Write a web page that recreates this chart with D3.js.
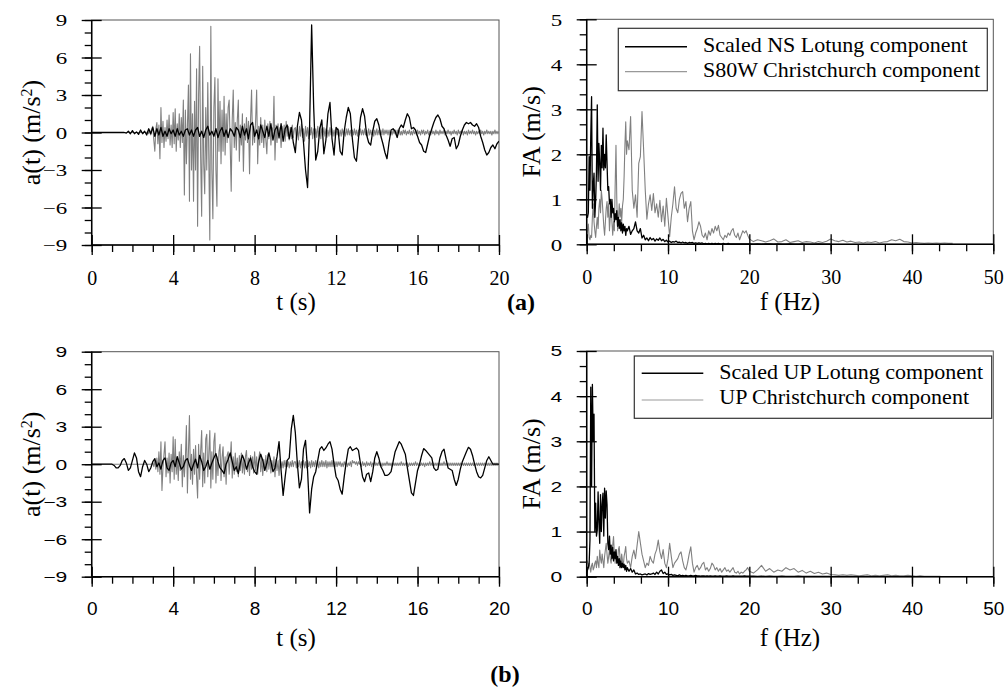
<!DOCTYPE html>
<html><head><meta charset="utf-8">
<script src="https://cdn.jsdelivr.net/npm/d3@7"></script>
<style>body{margin:0;background:#fff}</style>
</head><body>
<svg id="c" width="1008" height="690"></svg>
<script>
// ---------- DATA ----------
const timeTicks = [0,4,8,12,16,20];
const accTicks = [-9,-6,-3,0,3,6,9];
const freqTicks = [0,10,20,30,40,50];
const faTicks = [0,1,2,3,4,5];
const DT_GRAY = 0.05, DT_BLACK = 0.1;

// (a) S80W Christchurch acceleration, t = 0..20 s, step 0.05 s
const s80wChristchurch = [
0,0,0,0,0,0,0,0,0,0,0,0,0,0,0,0,0,0,0,0,
0,0,0,0,0,0,0,0,0,0,0,0,0,0,0,0,0,0,0,0,
0,0,0,0,0,0,0,0,0,0,0,0,0,0,0,0.1,-0.1,0.2,-0.2,0.3,
0.5,-0.6,-1.5,0.3,0.8,-0.9,0.6,-2.1,2.0,-0.8,0.9,-1.2,0.4,-0.7,1.0,-0.5,1.4,-1.0,0.6,-1.2,
1.6,-0.9,1.9,-1.5,0.7,-0.6,1.5,-1.2,1.2,-0.8,2.6,-5.0,1.8,-2.5,0.5,3.8,-5.5,6.3,-3.0,1.5,
-5.5,2.5,-3.0,5.1,-7.5,3.0,6.9,-2.0,-6.7,5.3,-2.5,-4.9,2.0,-3.0,4.0,-2.0,-8.6,8.5,-3.0,-6.9,
2.0,4.4,-3.0,-5.9,4.3,-1.5,2.5,-2.5,1.8,-1.5,2.9,-1.8,1.5,-0.8,2.0,2.6,-1.0,-4.7,1.0,3.4,
-1.2,0.8,-1.4,1.0,2.6,-2.3,0.6,-1.0,1.5,-3.1,0.7,-0.6,1.2,-0.8,0.9,-3.3,1.0,3.4,-1.0,0.5,
-0.8,1.0,3.4,-2.5,0.5,-1.0,1.2,-0.8,0.6,-1.2,1.0,-0.6,-1.7,0.7,-0.5,0.9,-1.0,0.4,-0.3,2.9,
-2.2,0.6,-0.8,0.7,-0.5,0.4,-1.2,0.5,-0.4,0.6,-0.7,0.9,-0.3,0.5,-0.6,0.4,-0.5,0.6,-0.4,0.3,
0.4,-0.5,0.3,-0.6,0.5,-0.3,0.7,-0.4,0.3,-0.7,0.5,-0.3,0.4,-0.5,0.6,-0.2,0.4,-0.5,0.3,-0.4,
0.3,-0.4,0.5,-0.3,0.4,-0.5,0.3,-0.2,0.4,-0.3,0.3,-0.4,0.2,-0.3,0.4,-0.2,0.3,-0.3,0.2,-0.3,
0.3,-0.2,0.3,-0.3,0.2,-0.3,0.3,-0.2,0.2,-0.3,0.3,-0.2,0.3,-0.2,0.2,-0.3,0.2,-0.2,0.3,-0.2,
0.2,-0.3,0.2,-0.2,0.3,-0.2,0.2,-0.2,0.3,-0.2,0.2,-0.3,0.3,-0.2,0.2,-0.2,0.2,-0.3,0.2,-0.2,
0.3,-0.2,0.2,-0.2,0.2,-0.2,0.3,-0.2,0.2,-0.1,0.2,-0.2,0.2,-0.2,0.1,-0.2,0.2,-0.1,0.2,-0.2,
0.2,-0.1,0.2,-0.2,0.1,-0.2,0.2,-0.1,0.2,-0.2,0.1,-0.1,0.2,-0.2,0.1,-0.2,0.2,-0.1,0.1,-0.2,
0.2,-0.1,0.1,-0.2,0.2,-0.1,0.2,-0.2,0.1,-0.1,0.2,-0.2,0.1,-0.2,0.2,-0.1,0.1,-0.2,0.2,-0.1,
0.1,-0.2,0.2,-0.1,0.1,-0.1,0.2,-0.2,0.1,-0.1,0.2,-0.1,0.1,-0.2,0.1,-0.1,0.2,-0.1,0.1,-0.2,
0.2,-0.1,0.1,-0.1,0.2,-0.2,0.1,-0.1,0.1,-0.2,0.2,-0.1,0.1,-0.1,0.2,-0.1,0.1,-0.2,0.1,-0.1,
0.1,-0.1,0.2,-0.1,0.1,-0.2,0.1,-0.1,0.2,-0.1,0.1,-0.1,0.1,-0.2,0.1,-0.1,0.2,-0.1,0.1,-0.1,
0.1];

// (a) Scaled NS Lotung acceleration, t = 0..20 s, step 0.1 s
const nsLotung = [
0,0,0,0,0,0,0,0,0,0,
0,0,0,0,0,0,0,-0.05,0.1,-0.1,
0.15,-0.1,0.05,-0.15,0.2,-0.1,0.1,-0.2,0.3,-0.1,
0.4,-0.3,0.3,-0.2,0.4,-0.3,0.1,-0.3,0.3,-0.1,
0.2,-0.3,0.3,-0.2,0.1,-0.3,0.2,0.3,-0.2,0.2,
-0.3,0.2,0.4,-0.3,0.1,-0.4,0.2,0.5,-0.2,0.1,
-0.3,0.3,-0.4,0.1,0.4,-0.3,0.2,-0.4,0.3,0.1,
-0.3,0.4,0.2,-0.4,0.5,-0.2,0.3,-0.5,0.6,0.8,
-0.3,0.2,-0.5,0.6,0.1,-0.4,0.5,-0.3,0.7,-0.6,
0.2,0.5,-0.4,0.7,-0.7,0.3,0.6,-0.5,0.4,-0.8,
-1.6,0.5,1.6,1.0,-0.8,-3.0,-4.4,0.5,8.6,2.0,
-2.2,-1.5,0.3,1.0,-1.7,-0.6,1.5,2.4,-0.5,-1.8,
0.4,0.2,-1.5,-1.8,0.1,1.2,2.0,1.5,-0.5,-2.0,
-2.3,-0.5,1.2,1.9,1.3,-0.2,-0.8,-1.0,0.1,0.9,
1.1,0.6,-0.3,-0.9,-1.6,-2.1,-0.8,0.2,0.3,0.1,
-0.4,0.3,0.6,0.4,1.0,1.5,1.2,0.3,0.4,0.2,
-0.3,-0.8,-1.0,-1.5,-1.6,-0.9,-0.2,0.3,0.8,1.2,
1.4,1.1,0.5,0.3,-0.2,-0.6,-1.1,-0.5,-0.4,-1.3,
-1.0,-0.3,0.2,0.6,0.8,0.7,0.8,0.6,0.5,0.7,
0.4,-0.3,-0.8,-1.4,-1.8,-1.6,-1.2,-1.0,-1.3,-0.9,
-0.7];

// (b) UP Christchurch acceleration, t = 0..20 s, step 0.05 s
const upChristchurch = [
0,0,0,0,0,0,0,0,0,0,0,0,0,0,0,0,0,0,0,0,
0,0,0,0,0,0,0,0,0,0,0,0,0,0,0,0,0,0,0,0,
0,0,0,0,0,0,0,0,0,0,0,0,0,0,0,0,0,0,0,0,
0.1,-0.2,0.3,-0.4,0.5,-0.6,1.0,-0.8,1.8,-2.1,-0.3,0.8,1.8,-1.0,0.5,-0.7,0.9,-1.5,0.8,-0.6,
2.2,-1.2,2.0,-0.8,0.6,-1.3,1.0,-0.5,1.6,-1.8,0.7,-1.0,0.5,3.1,-2.3,1.0,3.9,-1.2,0.8,-1.6,
1.2,-0.8,1.5,-1.0,-2.7,1.6,-1.2,1.0,2.7,-1.8,0.9,-1.5,2.0,2.4,-1.0,0.8,2.7,-1.9,1.0,-1.2,
1.8,2.5,-1.5,0.6,-0.9,1.0,1.6,-1.3,0.5,1.4,-1.0,0.6,-1.6,0.7,1.0,-0.8,0.4,1.8,-1.1,0.6,
-0.8,0.9,-0.6,0.5,-1.0,0.7,-0.5,0.9,-0.7,0.4,-0.8,0.6,1.1,-0.6,0.5,-0.9,0.7,-0.4,0.6,-0.7,
1.0,-0.5,0.6,-0.8,0.4,1.0,-0.6,0.5,-0.9,0.4,-0.5,0.7,-0.6,0.8,-0.4,0.5,-0.7,0.3,-0.5,0.6,
-1.0,0.4,-0.5,0.3,-0.9,0.4,-0.3,0.2,-0.3,0.3,-0.2,0.3,-0.2,0.2,-0.3,0.2,-0.2,0.3,-0.2,0.2,
0.2,-0.3,0.3,-0.2,0.3,-0.3,0.2,-0.2,0.3,-0.3,0.2,-0.3,0.3,-0.2,0.2,-0.3,0.3,-0.2,0.2,-0.2,
0.3,-0.2,0.2,-0.3,0.2,-0.2,0.3,-0.2,0.2,-0.2,0.3,-0.3,0.2,-0.2,0.2,-0.2,0.3,-0.2,0.2,-0.2,
0.2,-0.2,0.2,-0.1,0.2,-0.2,0.1,-0.2,0.2,-0.1,0.2,-0.2,0.1,-0.1,0.2,-0.2,0.3,0.1,0.2,0.0,
0.2,-0.1,0.2,0.0,0.1,-0.2,0.2,-0.1,0.1,-0.2,0.2,-0.1,0.1,-0.1,0.2,-0.2,0.1,-0.1,0.2,-0.1,
0.1,-0.1,0.2,-0.1,0.1,-0.2,0.1,-0.1,0.1,-0.1,0.2,-0.1,0.1,-0.1,0.1,-0.2,0.1,-0.1,0.1,-0.1,
0.1,-0.1,0.1,-0.1,0.2,-0.1,0.1,-0.1,0.1,-0.1,0.1,-0.2,0.1,-0.1,0.1,-0.1,0.1,-0.1,0.2,-0.1,
0.1,-0.1,0.1,-0.1,0.1,-0.1,0.1,-0.2,0.1,-0.1,0.1,-0.1,0.2,-0.1,0.1,-0.1,0.1,-0.1,0.1,-0.1,
0.1,-0.1,0.1,-0.1,0.1,-0.1,0.2,-0.1,0.1,-0.1,0.1,-0.1,0.1,-0.1,0.1,-0.1,0.1,-0.1,0.1,-0.1,
0.1,-0.1,0.1,-0.1,0.1,-0.1,0.1,-0.1,0.1,-0.1,0.1,-0.1,0.1,-0.1,0.1,-0.1,0.1,-0.1,0.1,-0.1,
0.1,-0.1,0.1,-0.1,0.1,-0.1,0.1,-0.1,0.1,-0.1,0.1,-0.1,0.1,-0.1,0.1,-0.1,0.1,-0.1,0.1,-0.1,
0];

// (b) Scaled UP Lotung acceleration, t = 0..20 s, step 0.1 s
const upLotung = [
0,0,0,0,0,0,0,0,0,0,
0,-0.1,-0.3,-0.3,-0.1,0.3,0.45,0.1,-0.5,-0.3,
0.3,0.9,0.5,-0.6,-1.0,-0.2,0.3,0.0,-0.6,-0.3,
0.2,0.45,-0.2,0.1,-0.4,0.3,0.5,-0.3,-0.5,0.1,
0.3,-0.2,0.6,0.1,-0.4,-0.2,0.3,0.45,-0.1,-0.5,
0.0,0.4,-0.3,0.7,0.2,-0.5,-0.2,0.3,-0.4,0.1,
0.5,0.85,0.2,-0.3,-0.5,-0.75,0.0,0.4,0.9,0.2,
-0.5,-0.2,-0.75,0.1,0.72,0.3,-0.4,0.1,0.5,-0.2,
-0.6,-0.8,0.2,0.8,0.3,-0.5,0.1,0.9,0.2,-0.6,
-0.3,0.6,1.8,-0.5,-2.5,-1.0,0.3,0.5,2.8,3.9,
2.5,0.0,-1.9,-1.2,1.2,1.9,-0.5,-3.9,-2.0,-1.0,
-0.6,0.3,1.2,1.4,1.1,1.3,1.6,1.8,1.2,0.0,
-1.0,-1.3,-2.0,-2.4,-1.0,0.2,1.2,1.4,1.1,1.2,
1.3,1.1,0.0,-1.0,-1.4,-0.8,-0.7,-1.4,-0.6,0.5,
1.0,0.5,-0.2,-0.5,-0.9,-0.9,-0.8,-0.6,0.2,1.0,
1.4,1.8,1.6,1.2,0.8,-0.3,-1.3,-2.3,-2.5,-1.5,
-0.5,0.0,0.7,1.25,1.1,0.9,0.7,0.5,-0.3,-0.5,
-0.4,0.5,1.0,1.2,0.4,-0.3,-0.4,-0.5,-1.2,-1.7,
-1.2,-0.4,0.2,0.6,1.0,1.35,1.2,0.7,0.0,-0.6,
-1.0,-1.1,-0.9,-0.3,0.3,0.6,0.3,0.0,0.0,0.0,
0.0];

// Fourier amplitude spectra: low band 0..4.9 Hz (step 0.1), mid 5..19.8 Hz (step 0.2), high from 20 Hz (step 0.5)
const faNsLotungLow = [0.65,0.6,0.7,1.95,1.2,2.4,3.28,0.8,1.3,1.58, 0.6,0.98,1.6,3.1,1.4,2.24,1.8,1.2,2.2,1.7,
 2.58,1.65,2.0,1.7,2.43,1.8,1.2,1.28,0.9,1.0, 0.6,1.0,0.7,0.8,0.5,0.68,0.55,0.75,0.4,0.6,
 0.35,0.55,0.3,0.48,0.25,0.45,0.3,0.4,0.2,0.35];
const faNsLotungMid = [0.3,0.4,0.22,0.3,0.35,0.5,0.3,0.25,0.35,0.14, 0.2,0.1,0.14,0.08,0.15,0.1,0.13,0.07,0.12,0.09,
 0.14,0.08,0.11,0.06,0.09,0.05,0.07,0.04,0.06,0.05, 0.07,0.04,0.05,0.03,0.05,0.03,0.04,0.02,0.04,0.03,
 0.04,0.02,0.03,0.02,0.03,0.02,0.03,0.01,0.02,0.01, 0.02,0.01,0.02,0.01,0.02,0.01,0.02,0.01,0.01,0.02,
 0.01,0.01,0.02,0.01,0.01,0.01,0.01,0.01,0.01,0.01, 0.01,0.01,0.01,0.01,0.01];
const faNsLotungHigh = [0.01,0.005,0.01,0.005,0.01,0.01,0.005,0.01,0.005,0.005,0.01,0.005,0.005,0.01,0.005,0.005,0.005,0.01,0.005,0.005,0.005];

const faS80wLow = [0.1,0.3,0.45,0.15,0.1,0.2,0.15,0.6,0.9,0.5, 0.3,0.15,0.4,0.6,0.35,0.8,1.0,0.7,1.2,1.0,
 0.7,0.4,0.2,0.5,0.8,0.95,0.6,0.9,0.3,0.6, 0.95,0.5,0.2,0.5,0.3,1.3,2.2,1.0,0.3,0.55,
 0.9,0.6,0.8,0.5,0.85,1.0,1.5,2.2,2.72,2.0];
const faS80wMid = [2.3,2.1,2.84,1.2,0.8,1.1,0.6,1.8,1.95,2.95, 2.1,1.2,0.56,0.9,1.1,0.75,1.13,0.7,0.9,0.6,
 0.98,0.5,0.85,0.4,1.02,0.6,0.17,0.6,0.9,1.28, 0.8,0.7,1.0,1.13,1.17,0.8,0.95,0.5,0.8,0.95,
 0.3,0.1,0.25,0.35,0.5,0.4,0.2,0.15,0.25,0.1, 0.3,0.2,0.35,0.25,0.4,0.3,0.42,0.2,0.15,0.1,
 0.2,0.15,0.25,0.2,0.3,0.35,0.2,0.15,0.25,0.1, 0.2,0.3,0.25,0.3,0.2];
const faS80wHigh = [0.12,0.06,0.1,0.08,0.05,0.08,0.12,0.05,0.06,0.1, 0.04,0.06,0.08,0.04,0.06,0.05,0.03,0.06,0.04,0.07,
 0.12,0.08,0.06,0.09,0.05,0.07,0.04,0.05,0.03,0.05, 0.04,0.06,0.03,0.05,0.06,0.1,0.08,0.11,0.06,0.05,
 0.03,0.04,0.03,0.02,0.03,0.02,0.03,0.02,0.03,0.02,0.02];

const faUpLotungLow = [0.1,0.15,0.2,0.3,0.8,4.2,2.0,4.26,3.0,3.6, 1.0,1.63,0.9,1.03,1.88,1.2,0.74,1.82,1.0,1.6,
 1.85,0.9,1.96,1.3,1.9,1.6,0.74,0.6,0.9,0.5, 0.7,0.4,0.65,0.35,0.55,0.4,0.6,0.3,0.45,0.25,
 0.4,0.2,0.35,0.2,0.3,0.2,0.28,0.15,0.25,0.12];
const faUpLotungMid = [0.2,0.12,0.18,0.1,0.15,0.06,0.08,0.05,0.06,0.04, 0.05,0.06,0.04,0.07,0.05,0.06,0.08,0.05,0.1,0.06,
 0.12,0.15,0.07,0.1,0.05,0.06,0.04,0.05,0.03,0.04, 0.03,0.02,0.04,0.02,0.03,0.02,0.03,0.02,0.02,0.03,
 0.02,0.02,0.03,0.02,0.02,0.01,0.02,0.02,0.01,0.02, 0.01,0.02,0.01,0.01,0.02,0.01,0.01,0.02,0.01,0.01,
 0.01,0.02,0.01,0.01,0.01,0.02,0.01,0.01,0.01,0.01, 0.01,0.01,0.02,0.01,0.01];
const faUpLotungHigh = [0.01,0.01,0.005,0.01,0.005,0.01,0.005,0.005,0.01,0.005,0.005,0.005,0.01,0.005,0.005,0.005,0.005,0.005,0.005,0.005,0.005];

const faUpChristLow = [0.3,0.35,0.25,0.3,0.2,0.1,0.25,0.3,0.15,0.2, 0.3,0.35,0.2,0.45,0.3,0.2,0.59,0.4,0.3,0.5,
 0.35,0.2,0.45,0.6,0.74,0.5,0.3,0.45,0.6,0.4, 0.3,0.5,0.7,0.89,0.5,0.3,0.55,0.4,0.35,0.6,
 0.67,0.4,0.3,0.5,0.35,0.25,0.45,0.55,0.67,0.4];
const faUpChristMid = [0.3,0.35,0.2,0.45,0.59,0.4,0.7,1.0,0.75,0.5, 0.35,0.2,0.3,0.25,0.45,0.35,0.3,0.5,0.6,0.81,
 0.55,0.4,0.6,0.3,0.2,0.4,0.74,0.45,0.2,0.3, 0.35,0.4,0.5,0.55,0.35,0.2,0.15,0.3,0.5,0.66,
 0.3,0.1,0.2,0.25,0.15,0.2,0.28,0.32,0.15,0.2, 0.12,0.18,0.3,0.25,0.15,0.2,0.12,0.18,0.1,0.15,
 0.2,0.12,0.15,0.1,0.15,0.2,0.1,0.08,0.12,0.06, 0.1,0.08,0.12,0.15,0.2];
const faUpChristHigh = [0.12,0.08,0.15,0.25,0.12,0.18,0.1,0.15,0.12,0.2, 0.15,0.18,0.1,0.14,0.08,0.12,0.07,0.1,0.06,0.08,
 0.05,0.04,0.03,0.04,0.03,0.04,0.03,0.02,0.03,0.04, 0.02,0.03,0.02,0.03,0.04,0.02,0.03,0.02,0.02,0.03,
 0.02,0.01,0.02,0.01,0.01,0.01,0.01,0.01];

const legendA = ["Scaled NS Lotung component","S80W Christchurch component"];
const legendB = ["Scaled UP Lotung component","UP Christchurch component"];

// ---------- HELPERS ----------
function series(values, start, step){ return values.map((v,i)=>[start+i*step, v]); }
function spectrum(low, mid, high){ return series(low,0,0.1).concat(series(mid,5,0.2), series(high,20,0.5)); }
function range(a,b,s){ const r=[]; for(let v=a; v<=b+1e-9; v+=s) r.push(+v.toFixed(4)); return r; }

const svg = d3.select("#c");
const SERIF = "'Liberation Serif','Times New Roman',serif";
const SANS = "'Liberation Sans',Arial,sans-serif";
const BLACK = "#000", GRAY = "#808080";
let clipN = 0;

function panel(o){
  const x = d3.scaleLinear().domain(o.xd).range([o.x0,o.x1]);
  const y = d3.scaleLinear().domain(o.yd).range([o.yB,o.yT]);
  const g = svg.append("g");
  g.append("rect").attr("x",o.x0).attr("y",o.yT).attr("width",o.x1-o.x0).attr("height",o.yB-o.yT)
    .attr("fill","none").attr("stroke","#555").attr("stroke-width",1);
  const cid = "clip"+(clipN++);
  svg.append("clipPath").attr("id",cid).append("rect")
    .attr("x",o.x0).attr("y",o.yT).attr("width",o.x1-o.x0).attr("height",o.yB-o.yT);
  const line = d3.line().x(d=>x(d[0])).y(d=>y(d[1]));
  o.series.forEach(s=>{
    g.append("path").datum(s.data).attr("d",line).attr("fill","none")
      .attr("stroke",s.color).attr("stroke-width",s.width).attr("stroke-linejoin","round")
      .attr("clip-path",`url(#${cid})`);
  });
  const style = sel => { sel.selectAll(".domain").remove(); sel.selectAll(".tick line").attr("stroke","#000").attr("stroke-width",1.3); };
  // y axis
  g.append("g").attr("transform",`translate(${o.x0},0)`).call(d3.axisLeft(y).tickValues(o.yMinor).tickSize(7).tickFormat("")).call(style);
  g.append("g").attr("transform",`translate(${o.x0},0)`).call(d3.axisRight(y).tickValues(o.yMajor).tickSize(10).tickFormat("")).call(style);
  const ya = g.append("g").attr("transform",`translate(${o.x0},0)`).call(d3.axisLeft(y).tickValues(o.yMajor).tickSize(10).tickFormat(d3.format("d"))).call(style);
  ya.selectAll("text").attr("font-family",o.font).attr("font-size",o.yFs).attr("fill","#000")
    .attr("x",-24.5/o.ySx).attr("dy","0.34em").attr("transform",`scale(${o.ySx},1)`);
  // x axis
  g.append("g").attr("transform",`translate(0,${o.yB})`).call(d3.axisBottom(x).tickValues(o.xMinor).tickSize(7).tickFormat("")).call(style);
  g.append("g").attr("transform",`translate(0,${o.yB})`).call(d3.axisTop(x).tickValues(o.xMajor).tickSize(10).tickFormat("")).call(style);
  const xa = g.append("g").attr("transform",`translate(0,${o.yB})`).call(d3.axisBottom(x).tickValues(o.xMajor).tickSize(10)).call(style);
  xa.selectAll("text").attr("font-family",o.font).attr("font-size",o.xFs).attr("fill","#000")
    .attr("y",o.xLabY).attr("dy","0.71em");
  // axis lines
  g.append("line").attr("x1",o.x0).attr("x2",o.x0).attr("y1",o.yT).attr("y2",o.yB).attr("stroke","#000").attr("stroke-width",1.5);
  g.append("line").attr("x1",o.x0).attr("x2",o.x1).attr("y1",o.yB).attr("y2",o.yB).attr("stroke","#000").attr("stroke-width",1.5);
  // y title
  const yc = (o.yT+o.yB)/2;
  const yt = svg.append("text").attr("transform",`translate(${o.yTitleX},${yc}) rotate(-90)`)
    .attr("text-anchor","middle").attr("dy","0.35em").attr("font-family",SERIF).attr("font-size",26);
  o.yTitle.forEach(p=>{
    const ts = yt.append("tspan").text(p.t);
    if(p.sup) ts.attr("font-size",16).attr("baseline-shift","super");
  });
  // x title
  svg.append("text").attr("x",o.xTitleX).attr("y",o.xTitleY).attr("text-anchor","middle")
    .attr("font-family",SERIF).attr("font-size",25).text(o.xTitle);
  // legend
  if(o.legend){
    const L=o.legend;
    svg.append("rect").attr("x",L.x).attr("y",L.y).attr("width",L.w).attr("height",L.h)
      .attr("fill","#fff").attr("stroke","#333").attr("stroke-width",1.2);
    L.items.forEach((it,i)=>{
      svg.append("line").attr("x1",L.lx0).attr("x2",L.lx1).attr("y1",L.ly[i]).attr("y2",L.ly[i])
        .attr("stroke",it.color).attr("stroke-width",it.w);
      svg.append("text").attr("x",L.tx).attr("y",L.ty[i]).attr("font-family",SERIF).attr("font-size",22)
        .attr("fill","#000").text(it.label);
    });
  }
}

const timeMinor = range(0,20,1), accMinor = range(-9,9,1);
const freqMinor = range(0,50,10/3), faMinor = range(0,5,1/3);

// (a) time history
panel({xd:[0,20], yd:[-9,9], x0:91.7, x1:499, yT:20, yB:245,
  xMajor:timeTicks, xMinor:timeMinor, yMajor:accTicks, yMinor:accMinor,
  font:SERIF, yFs:17, ySx:1.35, xFs:20, xLabY:26,
  series:[{data:series(s80wChristchurch,0,DT_GRAY),color:GRAY,width:1.1},
          {data:series(nsLotung,0,DT_BLACK),color:BLACK,width:1.3}],
  yTitleX:31, yTitle:[{t:"a(t) (m/s"},{t:"2",sup:true},{t:")"}],
  xTitle:"t (s)", xTitleX:296, xTitleY:310});
// (a) spectrum
panel({xd:[0,50], yd:[0,5], x0:586.7, x1:993.3, yT:19.3, yB:244.3,
  xMajor:freqTicks, xMinor:freqMinor, yMajor:faTicks, yMinor:faMinor,
  font:SERIF, yFs:17, ySx:1.35, xFs:20, xLabY:26,
  series:[{data:spectrum(faS80wLow,faS80wMid,faS80wHigh),color:GRAY,width:1.1},
          {data:spectrum(faNsLotungLow,faNsLotungMid,faNsLotungHigh),color:BLACK,width:1.3}],
  yTitleX:531, yTitle:[{t:"FA (m/s)"}],
  xTitle:"f (Hz)", xTitleX:790, xTitleY:310,
  legend:{x:618.3,y:28.3,w:369,h:62.4,lx0:625,lx1:687,ly:[46.7,71.7],tx:703,ty:[52,77],
    items:[{label:legendA[0],color:"#000",w:1.5},{label:legendA[1],color:"#999",w:1.2}]}});
// (b) time history
panel({xd:[0,20], yd:[-9,9], x0:91.7, x1:499, yT:351.7, yB:576.7,
  xMajor:timeTicks, xMinor:timeMinor, yMajor:accTicks, yMinor:accMinor,
  font:SANS, yFs:14.5, ySx:1.45, xFs:19, xLabY:25,
  series:[{data:series(upChristchurch,0,DT_GRAY),color:GRAY,width:1.1},
          {data:series(upLotung,0,DT_BLACK),color:BLACK,width:1.3}],
  yTitleX:31, yTitle:[{t:"a(t) (m/s"},{t:"2",sup:true},{t:")"}],
  xTitle:"t (s)", xTitleX:296, xTitleY:646});
// (b) spectrum
panel({xd:[0,50], yd:[0,5], x0:586.7, x1:993.3, yT:351, yB:576.7,
  xMajor:freqTicks, xMinor:freqMinor, yMajor:faTicks, yMinor:faMinor,
  font:SANS, yFs:14.5, ySx:1.45, xFs:19, xLabY:25,
  series:[{data:spectrum(faUpChristLow,faUpChristMid,faUpChristHigh),color:GRAY,width:1.1},
          {data:spectrum(faUpLotungLow,faUpLotungMid,faUpLotungHigh),color:BLACK,width:1.3}],
  yTitleX:531, yTitle:[{t:"FA (m/s)"}],
  xTitle:"f (Hz)", xTitleX:790, xTitleY:646,
  legend:{x:634.3,y:356,w:357.4,h:62.3,lx0:641.7,lx1:703.3,ly:[373.3,400],tx:719.3,ty:[379,404],
    items:[{label:legendB[0],color:"#000",w:1.5},{label:legendB[1],color:"#999",w:1.2}]}});

// panel labels
svg.append("text").attr("x",521).attr("y",310).attr("text-anchor","middle").attr("font-family",SERIF)
  .attr("font-size",24).attr("font-weight","bold").text("(a)");
svg.append("text").attr("x",505).attr("y",682).attr("text-anchor","middle").attr("font-family",SERIF)
  .attr("font-size",24).attr("font-weight","bold").text("(b)");
</script>
</body></html>
